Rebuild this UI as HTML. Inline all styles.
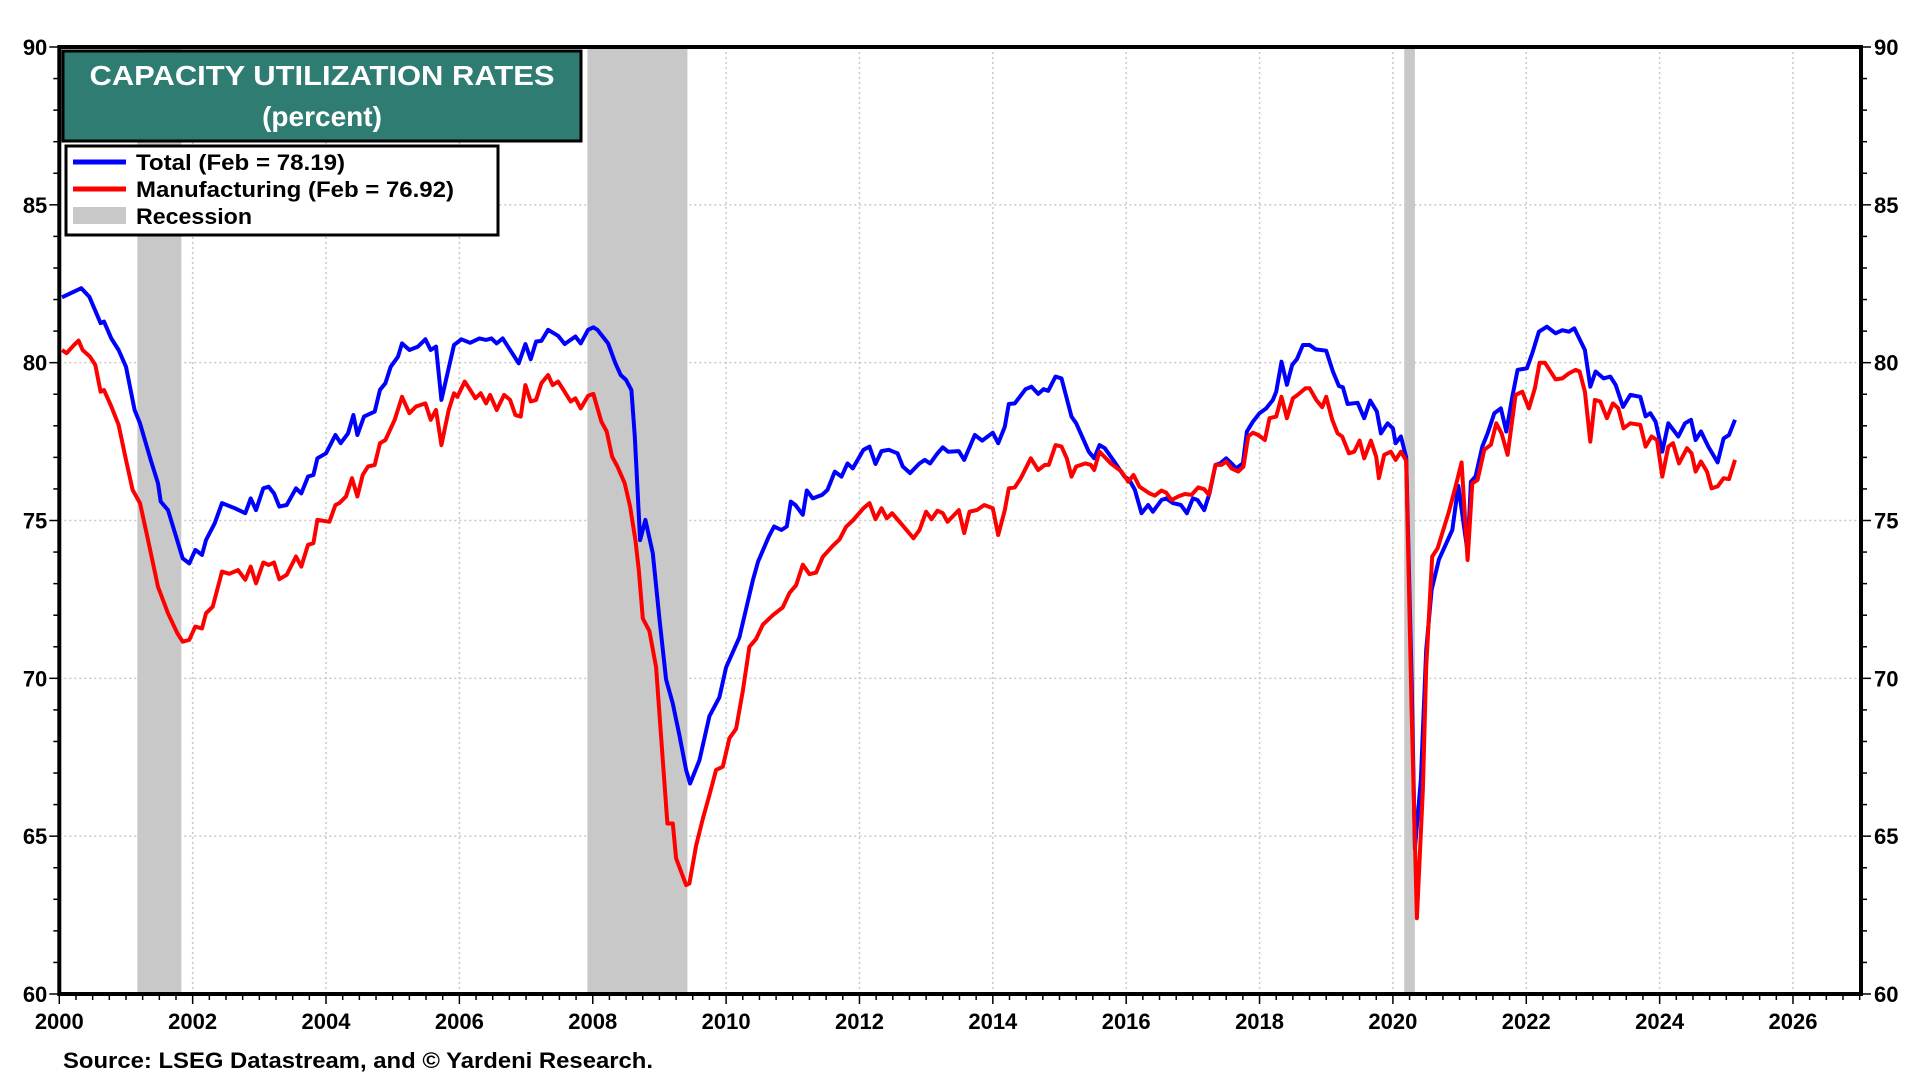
<!DOCTYPE html>
<html><head><meta charset="utf-8"><title>Capacity Utilization Rates</title>
<style>html,body{margin:0;padding:0;background:#fff;}svg{display:block;}</style></head>
<body>
<svg id="chart" xmlns="http://www.w3.org/2000/svg" width="1920" height="1080" viewBox="0 0 1920 1080" font-family="'Liberation Sans', Arial, sans-serif">
<rect x="0" y="0" width="1920" height="1080" fill="#fff"/>
<g id="bands"></g>
<g id="grid"></g>
<g id="series"></g>
<g id="axes"></g>
<g>
<rect x="63" y="51" width="518" height="90" fill="#2f7d72" stroke="#000" stroke-width="3"/>
<text x="322" y="85" text-anchor="middle" fill="#fff" font-weight="bold" font-size="28" textLength="465" lengthAdjust="spacingAndGlyphs">CAPACITY UTILIZATION RATES</text>
<text x="322" y="126" text-anchor="middle" fill="#fff" font-weight="bold" font-size="28">(percent)</text>
</g>
<g>
<rect x="66" y="146" width="432" height="89" fill="#fff" stroke="#000" stroke-width="3"/>
<g>
<line x1="73" y1="162" x2="126" y2="162" stroke="#0000ff" stroke-width="5"/>
<text x="136" y="170" font-size="22" font-weight="bold" textLength="209" lengthAdjust="spacingAndGlyphs">Total (Feb = 78.19)</text></g>
<g>
<line x1="73" y1="189" x2="126" y2="189" stroke="#ff0000" stroke-width="5"/>
<text x="136" y="197" font-size="22" font-weight="bold" textLength="318" lengthAdjust="spacingAndGlyphs">Manufacturing (Feb = 76.92)</text></g>
<g>
<rect x="73" y="207" width="53" height="17" fill="#c8c8c8"/>
<text x="136" y="224" font-size="22" font-weight="bold" textLength="116" lengthAdjust="spacingAndGlyphs">Recession</text></g>
</g>
<text x="63" y="1068" font-size="22" font-weight="bold" textLength="590" lengthAdjust="spacingAndGlyphs">Source: LSEG Datastream, and © Yardeni Research.</text>
</svg>
<script>
const totalYears=[2000.04,2000.33,2000.45,2000.62,2000.67,2000.78,2000.89,2001.0,2001.13,2001.21,2001.37,2001.48,2001.52,2001.63,2001.85,2001.95,2002.04,2002.14,2002.2,2002.33,2002.44,2002.63,2002.79,2002.87,2002.95,2003.06,2003.14,2003.22,2003.3,2003.41,2003.55,2003.63,2003.73,2003.81,2003.87,2004.0,2004.14,2004.22,2004.33,2004.41,2004.47,2004.57,2004.73,2004.81,2004.89,2004.97,2005.08,2005.14,2005.25,2005.38,2005.49,2005.57,2005.65,2005.73,2005.92,2006.03,2006.16,2006.3,2006.4,2006.48,2006.56,2006.65,2006.89,2006.99,2007.07,2007.15,2007.23,2007.33,2007.48,2007.58,2007.74,2007.82,2007.93,2008.01,2008.07,2008.23,2008.34,2008.42,2008.5,2008.58,2008.63,2008.71,2008.79,2008.9,2009.0,2009.1,2009.2,2009.3,2009.4,2009.46,2009.6,2009.75,2009.9,2010.0,2010.2,2010.3,2010.4,2010.48,2010.64,2010.72,2010.83,2010.91,2010.97,2011.04,2011.15,2011.21,2011.3,2011.44,2011.52,2011.63,2011.73,2011.82,2011.9,2012.06,2012.15,2012.24,2012.33,2012.44,2012.57,2012.65,2012.76,2012.9,2012.98,2013.06,2013.17,2013.25,2013.33,2013.49,2013.57,2013.73,2013.84,2014.0,2014.08,2014.18,2014.24,2014.33,2014.49,2014.58,2014.68,2014.76,2014.83,2014.94,2015.03,2015.18,2015.25,2015.44,2015.52,2015.6,2015.68,2015.82,2015.97,2016.05,2016.13,2016.23,2016.33,2016.4,2016.53,2016.6,2016.7,2016.82,2016.91,2017.0,2017.07,2017.17,2017.25,2017.34,2017.41,2017.5,2017.58,2017.65,2017.75,2017.81,2017.9,2018.0,2018.1,2018.2,2018.25,2018.33,2018.41,2018.49,2018.56,2018.65,2018.75,2018.84,2019.0,2019.1,2019.19,2019.25,2019.32,2019.47,2019.57,2019.66,2019.76,2019.82,2019.92,2020.0,2020.04,2020.12,2020.2,2020.28,2020.33,2020.42,2020.5,2020.58,2020.69,2020.89,2020.98,2021.12,2021.17,2021.24,2021.34,2021.42,2021.52,2021.62,2021.7,2021.79,2021.87,2022.01,2022.09,2022.19,2022.31,2022.44,2022.54,2022.64,2022.72,2022.88,2022.96,2023.04,2023.16,2023.26,2023.34,2023.45,2023.56,2023.71,2023.79,2023.86,2023.94,2024.04,2024.13,2024.28,2024.38,2024.47,2024.54,2024.62,2024.73,2024.87,2024.96,2025.04,2025.13];
const totalValues=[82.07,82.36,82.09,81.25,81.3,80.77,80.4,79.87,78.5,78.08,76.92,76.18,75.6,75.33,73.8,73.64,74.07,73.91,74.38,74.91,75.55,75.39,75.23,75.7,75.33,76.02,76.07,75.86,75.44,75.49,76.02,75.86,76.39,76.44,76.97,77.13,77.71,77.45,77.76,78.34,77.71,78.29,78.45,79.14,79.35,79.87,80.19,80.61,80.4,80.51,80.74,80.4,80.51,78.82,80.56,80.74,80.63,80.77,80.72,80.77,80.61,80.77,79.98,80.59,80.11,80.67,80.69,81.04,80.85,80.59,80.83,80.61,81.04,81.12,81.04,80.61,79.98,79.61,79.45,79.13,77.66,74.38,75.02,73.96,71.9,69.96,69.2,68.2,67.1,66.67,67.4,68.8,69.4,70.35,71.3,72.2,73.1,73.7,74.49,74.81,74.7,74.81,75.6,75.49,75.18,75.95,75.7,75.81,75.97,76.55,76.39,76.81,76.65,77.24,77.34,76.79,77.2,77.24,77.13,76.71,76.5,76.81,76.92,76.81,77.13,77.32,77.18,77.2,76.92,77.71,77.53,77.78,77.45,77.97,78.69,78.71,79.16,79.24,79.01,79.16,79.11,79.56,79.5,78.29,78.08,77.18,76.97,77.39,77.29,76.87,76.4,76.28,75.97,75.23,75.49,75.28,75.65,75.7,75.55,75.49,75.23,75.7,75.65,75.33,75.86,76.76,76.81,76.97,76.81,76.65,76.81,77.82,78.13,78.4,78.55,78.82,79.08,80.03,79.3,79.93,80.11,80.56,80.56,80.42,80.38,79.72,79.26,79.22,78.69,78.73,78.24,78.8,78.45,77.76,78.08,77.92,77.45,77.66,77.0,70.0,64.6,66.8,70.9,72.8,73.76,74.7,76.1,74.0,76.23,76.4,77.34,77.76,78.4,78.55,77.82,78.92,79.77,79.82,80.3,80.98,81.14,80.93,81.03,80.98,81.09,80.4,79.24,79.72,79.5,79.56,79.3,78.6,78.98,78.92,78.3,78.4,78.13,77.18,78.08,77.66,78.08,78.19,77.55,77.82,77.34,76.84,77.6,77.71,78.19];
const mfgYears=[2000.04,2000.11,2000.22,2000.29,2000.35,2000.46,2000.54,2000.62,2000.67,2000.78,2000.89,2001.0,2001.1,2001.21,2001.32,2001.48,2001.63,2001.77,2001.85,2001.95,2002.04,2002.14,2002.2,2002.3,2002.44,2002.55,2002.68,2002.79,2002.87,2002.95,2003.06,2003.14,2003.22,2003.3,2003.41,2003.55,2003.63,2003.73,2003.81,2003.87,2004.05,2004.14,2004.2,2004.3,2004.39,2004.47,2004.55,2004.63,2004.73,2004.81,2004.89,2005.03,2005.14,2005.25,2005.35,2005.49,2005.57,2005.65,2005.73,2005.84,2005.92,2005.97,2006.08,2006.16,2006.24,2006.32,2006.4,2006.46,2006.56,2006.67,2006.76,2006.84,2006.92,2006.99,2007.07,2007.15,2007.23,2007.33,2007.4,2007.48,2007.56,2007.67,2007.74,2007.82,2007.93,2008.01,2008.05,2008.13,2008.21,2008.29,2008.37,2008.48,2008.56,2008.64,2008.69,2008.75,2008.85,2008.95,2009.05,2009.12,2009.2,2009.25,2009.32,2009.4,2009.45,2009.55,2009.65,2009.75,2009.85,2009.95,2010.05,2010.15,2010.25,2010.35,2010.45,2010.55,2010.7,2010.85,2010.95,2011.05,2011.15,2011.25,2011.35,2011.45,2011.6,2011.7,2011.8,2011.9,2012.06,2012.15,2012.24,2012.33,2012.41,2012.49,2012.62,2012.81,2012.9,2013.0,2013.08,2013.17,2013.25,2013.32,2013.49,2013.57,2013.65,2013.76,2013.87,2014.0,2014.08,2014.18,2014.24,2014.33,2014.42,2014.57,2014.68,2014.78,2014.84,2014.94,2015.03,2015.11,2015.18,2015.25,2015.39,2015.47,2015.52,2015.6,2015.77,2015.93,2016.03,2016.11,2016.2,2016.35,2016.43,2016.53,2016.6,2016.68,2016.78,2016.88,2016.98,2017.08,2017.17,2017.24,2017.34,2017.43,2017.5,2017.58,2017.68,2017.76,2017.83,2017.9,2017.98,2018.08,2018.15,2018.25,2018.33,2018.41,2018.5,2018.57,2018.69,2018.75,2018.85,2018.94,2019.0,2019.09,2019.17,2019.24,2019.34,2019.42,2019.5,2019.57,2019.67,2019.75,2019.79,2019.87,2019.97,2020.04,2020.12,2020.2,2020.28,2020.36,2020.45,2020.5,2020.59,2020.67,2020.84,2020.94,2021.03,2021.12,2021.19,2021.27,2021.37,2021.47,2021.55,2021.63,2021.72,2021.84,2021.94,2022.04,2022.13,2022.2,2022.28,2022.44,2022.54,2022.64,2022.74,2022.8,2022.88,2022.96,2023.03,2023.11,2023.21,2023.3,2023.38,2023.46,2023.56,2023.71,2023.79,2023.88,2023.96,2024.04,2024.13,2024.2,2024.29,2024.41,2024.48,2024.54,2024.62,2024.71,2024.78,2024.87,2024.96,2025.04,2025.13];
const mfgValues=[80.4,80.3,80.56,80.7,80.4,80.19,79.93,79.08,79.13,78.61,78.03,76.92,75.97,75.55,74.49,72.9,72.06,71.43,71.16,71.22,71.64,71.58,72.06,72.27,73.38,73.31,73.43,73.12,73.54,73.01,73.67,73.59,73.67,73.14,73.28,73.86,73.54,74.23,74.28,75.02,74.96,75.49,75.55,75.76,76.34,75.76,76.44,76.71,76.76,77.45,77.55,78.19,78.92,78.4,78.61,78.71,78.19,78.5,77.39,78.5,79.03,78.92,79.4,79.14,78.87,79.03,78.71,78.98,78.5,78.98,78.82,78.34,78.29,79.29,78.77,78.82,79.35,79.61,79.29,79.4,79.14,78.77,78.87,78.55,78.95,79.01,78.71,78.13,77.82,77.02,76.71,76.18,75.44,74.38,73.43,71.9,71.5,70.35,67.4,65.4,65.4,64.3,63.9,63.45,63.5,64.7,65.55,66.3,67.1,67.2,68.1,68.4,69.6,71.0,71.25,71.7,72.0,72.25,72.7,72.95,73.6,73.3,73.35,73.85,74.2,74.4,74.8,75.0,75.39,75.55,75.04,75.39,75.07,75.23,74.91,74.44,74.7,75.28,75.04,75.31,75.23,74.96,75.33,74.6,75.28,75.33,75.49,75.39,74.54,75.33,76.02,76.05,76.34,76.97,76.6,76.76,76.76,77.39,77.34,76.97,76.39,76.71,76.81,76.76,76.6,77.18,76.81,76.55,76.23,76.44,76.07,75.86,75.79,75.95,75.88,75.65,75.76,75.84,75.81,76.05,75.99,75.81,76.76,76.76,76.87,76.65,76.55,76.71,77.66,77.78,77.71,77.55,78.24,78.29,78.92,78.24,78.87,78.98,79.19,79.19,78.82,78.59,78.92,78.19,77.76,77.66,77.13,77.18,77.53,76.97,77.53,77.02,76.34,77.08,77.18,76.92,77.18,76.9,69.0,62.4,66.5,70.35,73.86,74.12,75.28,76.08,76.84,73.75,76.18,76.29,77.24,77.4,78.08,77.76,77.08,78.98,79.08,78.55,79.19,80.0,80.0,79.47,79.5,79.66,79.77,79.72,79.08,77.5,78.82,78.77,78.24,78.71,78.55,77.92,78.08,78.03,77.34,77.66,77.55,76.39,77.34,77.45,76.81,77.29,77.13,76.55,76.87,76.55,76.02,76.08,76.34,76.31,76.92];
const recessionStarts=[2001.17,2007.92,2020.17];
const recessionEnds=[2001.83,2009.42,2020.33];
const yTickValues=[60,65,70,75,80,85,90];
const yTickLabels=["60","65","70","75","80","85","90"];
const xTickYears=[2000,2002,2004,2006,2008,2010,2012,2014,2016,2018,2020,2022,2024,2026];
const xTickLabels=["2000","2002","2004","2006","2008","2010","2012","2014","2016","2018","2020","2022","2024","2026"];

const NS="http://www.w3.org/2000/svg";
const L=59.3,R=1861,T=47,B=994,X0=2000,X1=2027.02,Y0=60,Y1=90;
function xs(v){return L+(v-X0)/(X1-X0)*(R-L);}
function ys(v){return B-(v-Y0)/(Y1-Y0)*(B-T);}
function mk(tag,attrs,parent){const e=document.createElementNS(NS,tag);for(const k in attrs)e.setAttribute(k,attrs[k]);parent.appendChild(e);return e;}

const bands=document.getElementById('bands');
for(let i=0;i<recessionStarts.length;i++){
  const r=mk('rect',{x:xs(recessionStarts[i]),y:T,width:xs(recessionEnds[i])-xs(recessionStarts[i]),height:B-T,fill:'#c8c8c8'},bands);
  
  
}
const grid=document.getElementById('grid');
yTickValues.forEach(v=>{if(v===Y0||v===Y1)return;
  const g=mk('line',{x1:L,x2:R,y1:ys(v),y2:ys(v),stroke:'#c8c8c8','stroke-width':1.5,'stroke-dasharray':'2,3'},grid);
  
  
});
xTickYears.forEach(v=>{if(v===X0)return;
  const g=mk('line',{x1:xs(v),x2:xs(v),y1:T,y2:B,stroke:'#c8c8c8','stroke-width':1.5,'stroke-dasharray':'2,3'},grid);
  
  
});
const series=document.getElementById('series');
function pathFor(xa,va){return xa.map((x,i)=>(i?'L':'M')+xs(x).toFixed(1)+','+ys(va[i]).toFixed(1)).join('');}
const pt=mk('path',{d:pathFor(totalYears,totalValues),fill:'none',stroke:'#0000ff','stroke-width':4,'stroke-linejoin':'round'},series);


const pm=mk('path',{d:pathFor(mfgYears,mfgValues),fill:'none',stroke:'#ff0000','stroke-width':4,'stroke-linejoin':'round'},series);



const axes=document.getElementById('axes');
const frame=mk('rect',{x:L,y:T,width:R-L,height:B-T,fill:'none',stroke:'#000','stroke-width':4},axes);


for(let v=Y0;v<=Y1;v++){
  const major=v%5===0,len=major?10:6;
  mk('line',{x1:L-len,x2:L,y1:ys(v),y2:ys(v),stroke:'#000','stroke-width':1.5},axes);
  mk('line',{x1:R,x2:R+len,y1:ys(v),y2:ys(v),stroke:'#000','stroke-width':1.5},axes);
}
yTickValues.forEach((v,i)=>{
  const a=mk('text',{x:L-12,y:ys(v)+8,'text-anchor':'end','font-size':22,'font-weight':'bold'},axes);
  a.textContent=yTickLabels[i];
  
  
  const b=mk('text',{x:R+13,y:ys(v)+8,'text-anchor':'start','font-size':22,'font-weight':'bold'},axes);
  b.textContent=yTickLabels[i];
  
  
});
for(let q=0;q<=108;q++){
  const yr=X0+q*0.25;if(yr>X1)break;
  const major=q%8===0;
  mk('line',{x1:xs(yr),x2:xs(yr),y1:B,y2:B+(major?10:6),stroke:'#000','stroke-width':1.5},axes);
}
xTickYears.forEach((v,i)=>{
  const t=mk('text',{x:xs(v),y:1029,'text-anchor':'middle','font-size':22,'font-weight':'bold'},axes);
  t.textContent=xTickLabels[i];
  
  
});
</script>
</body></html>
